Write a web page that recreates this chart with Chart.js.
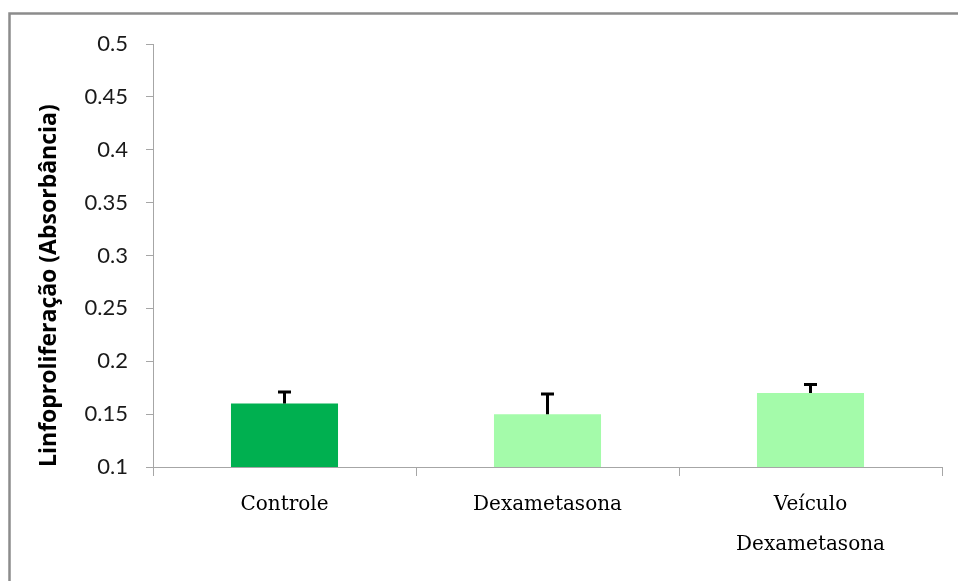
<!DOCTYPE html>
<html>
<head>
<meta charset="utf-8">
<script src="https://cdn.jsdelivr.net/npm/chart.js@4.4.1/dist/chart.umd.min.js"></script>
<style>
html,body{margin:0;padding:0;background:#fff;}
#c{position:absolute;left:0;top:0;}
</style>
</head>
<body>
<canvas id="c" width="958" height="581"></canvas>
<script>
const categories = ['Controle', 'Dexametasona', ['Veículo', 'Dexametasona']];
const values = [0.16, 0.15, 0.17];
const errors = [0.011, 0.019, 0.008];
const barColors = ['#00b050', '#a4fbaa', '#a4fbaa'];
const yTickLabels = ['0.1', '0.15', '0.2', '0.25', '0.3', '0.35', '0.4', '0.45', '0.5'];
const yTitle = 'Linfoproliferação (Absorbância)';

const framePlugin = {
  id: 'frame',
  beforeDraw(chart) {
    const ctx = chart.ctx;
    ctx.save();
    ctx.fillStyle = '#fff';
    ctx.fillRect(0, 0, chart.width, chart.height);
    ctx.strokeStyle = '#8c8c8c';
    ctx.lineWidth = 2.5;
    ctx.beginPath();
    ctx.moveTo(9.5, chart.height + 5);
    ctx.lineTo(9.5, 13.5);
    ctx.lineTo(chart.width + 5, 13.5);
    ctx.stroke();
    ctx.restore();
  }
};

const errorBarPlugin = {
  id: 'errorBars',
  afterDatasetsDraw(chart) {
    const ctx = chart.ctx;
    const ys = chart.scales.y;
    const meta = chart.getDatasetMeta(0);
    ctx.save();
    ctx.strokeStyle = '#000';
    ctx.lineWidth = 3;
    meta.data.forEach((bar, i) => {
      const x = bar.x;
      const yTop = ys.getPixelForValue(values[i]);
      const yErr = ys.getPixelForValue(values[i] + errors[i]);
      ctx.beginPath();
      ctx.moveTo(x, yTop);
      ctx.lineTo(x, yErr);
      ctx.moveTo(x - 6.5, yErr);
      ctx.lineTo(x + 6.5, yErr);
      ctx.stroke();
    });
    ctx.restore();
  }
};

new Chart(document.getElementById('c'), {
  type: 'bar',
  data: {
    labels: categories,
    datasets: [{
      data: values,
      backgroundColor: barColors,
      borderWidth: 0,
      categoryPercentage: 1,
      barPercentage: 0.407
    }]
  },
  options: {
    responsive: false,
    animation: false,
    devicePixelRatio: 1,
    layout: { padding: { left: 0, right: 16, top: 44, bottom: 0 } },
    plugins: { legend: { display: false }, tooltip: { enabled: false } },
    scales: {
      x: {
        grid: { display: true, offset: true, drawOnChartArea: false, drawTicks: true, tickLength: 9, color: '#a6a6a6', lineWidth: 1 },
        border: { display: true, color: '#a6a6a6', width: 1 },
        ticks: {
          color: '#000',
          font: { family: 'DejaVu Serif', size: 20, lineHeight: 2 },
          padding: 9,
          maxRotation: 0,
          autoSkip: false
        },
        afterFit(scale) { scale.height = 581 - 467; }
      },
      y: {
        min: 0.1,
        max: 0.5,
        grid: { display: true, drawOnChartArea: false, drawTicks: true, tickLength: 7, color: '#a6a6a6', lineWidth: 1 },
        border: { display: true, color: '#a6a6a6', width: 1 },
        ticks: {
          stepSize: 0.05,
          color: '#1a1a1a',
          font: { family: 'Lato', size: 22 },
          padding: 18,
          callback: (v, i) => yTickLabels[i]
        },
        title: {
          display: true,
          text: yTitle,
          align: 'start',
          color: '#000',
          font: { family: 'Open Sans', size: 23, weight: 'bold', lineHeight: 1.2 },
          padding: { top: 36, bottom: 0 }
        },
        afterFit(scale) { scale.width = 153; }
      }
    }
  },
  plugins: [framePlugin, errorBarPlugin]
});
</script>
</body>
</html>
